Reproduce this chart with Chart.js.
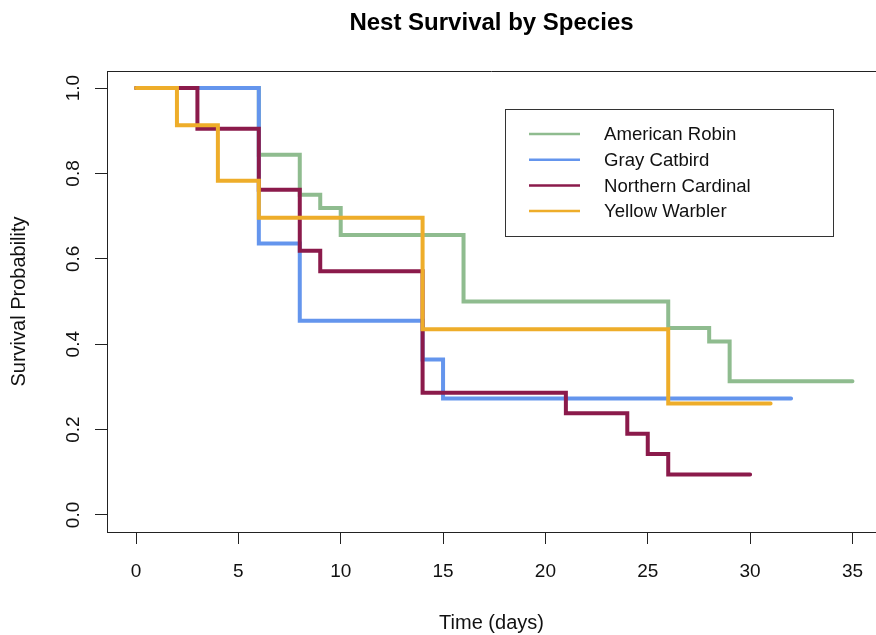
<!DOCTYPE html>
<html>
<head>
<meta charset="utf-8">
<script src="https://cdn.jsdelivr.net/npm/chart.js@4.4.1/dist/chart.umd.min.js"></script>
<style>
  html, body { margin: 0; padding: 0; background: #fff; }
  #wrap { width: 876px; height: 635px; position: relative; }
</style>
</head>
<body>
<div id="wrap"><canvas id="survChart"></canvas></div>
<script>
// espécies e curvas de Kaplan-Meier
const species = ['American Robin', 'Gray Catbird', 'Northern Cardinal', 'Yellow Warbler'];
const colors = ['#8FBC8F', '#6495ED', '#8B1A4B', '#EEAD2A'];

const robinTime = [0, 6, 8, 9, 10, 16, 26, 28, 29, 35];
const robinSurv = [1.0, 0.844, 0.75, 0.719, 0.656, 0.5, 0.438, 0.406, 0.313, 0.313];

const catbirdTime = [0, 6, 8, 14, 15, 32];
const catbirdSurv = [1.0, 0.636, 0.455, 0.364, 0.273, 0.273];

const cardinalTime = [0, 3, 6, 8, 9, 14, 21, 24, 25, 26, 30];
const cardinalSurv = [1.0, 0.905, 0.762, 0.619, 0.571, 0.286, 0.238, 0.190, 0.143, 0.095, 0.095];

const warblerTime = [0, 2, 4, 6, 14, 26, 31];
const warblerSurv = [1.0, 0.913, 0.783, 0.696, 0.435, 0.261, 0.261];

const xTicks = [0, 5, 10, 15, 20, 25, 30, 35];
const yTicks = [0, 0.2, 0.4, 0.6, 0.8, 1.0];

const times = [robinTime, catbirdTime, cardinalTime, warblerTime];
const survs = [robinSurv, catbirdSurv, cardinalSurv, warblerSurv];

const FONT = '"Liberation Sans", Arial, Helvetica, sans-serif';

// moldura de cima + legenda dentro do gráfico
const framePlugin = {
  id: 'frameLegend',
  afterDraw(chart) {
    const { ctx, chartArea: a } = chart;
    ctx.save();
    ctx.strokeStyle = '#222';
    ctx.lineWidth = 1;
    ctx.beginPath();
    ctx.moveTo(a.left, a.top + 0.5);
    ctx.lineTo(chart.width, a.top + 0.5);
    ctx.stroke();

    // legenda
    const bx = a.left + 398, by = a.top + 38, bw = 328, bh = 127;
    ctx.fillStyle = '#fff';
    ctx.fillRect(bx, by, bw, bh);
    ctx.strokeStyle = '#333';
    ctx.strokeRect(bx + 0.5, by + 0.5, bw, bh);
    ctx.font = '18.6px ' + FONT;
    ctx.textBaseline = 'middle';
    ctx.textAlign = 'left';
    species.forEach((name, i) => {
      const y = by + 25 + i * 25.7;
      ctx.strokeStyle = colors[i];
      ctx.lineWidth = 2.5;
      ctx.beginPath();
      ctx.moveTo(bx + 24, y);
      ctx.lineTo(bx + 75, y);
      ctx.stroke();
      ctx.fillStyle = '#111';
      ctx.fillText(name, bx + 99, y + 1);
    });
    ctx.restore();
  }
};

const datasets = species.map((name, i) => ({
  label: name,
  data: times[i].map((t, j) => ({ x: t, y: survs[i][j] })),
  borderColor: colors[i],
  backgroundColor: colors[i],
  borderWidth: 4,
  borderCapStyle: 'round',
  stepped: true,
  showLine: true,
  pointRadius: 0,
  fill: false,
  order: species.length - i
}));

const ctx = document.getElementById('survChart').getContext('2d');
window.survChart = new Chart(ctx, {
  type: 'scatter',
  data: { datasets },
  plugins: [framePlugin],
  options: {
    responsive: true,
    maintainAspectRatio: false,
    animation: false,
    layout: { padding: 0 },
    plugins: {
      legend: { display: false },
      tooltip: { enabled: false },
      title: {
        display: true,
        text: 'Nest Survival by Species',
        fullSize: false,
        color: '#000',
        font: { family: FONT, size: 24, weight: 'bold', lineHeight: 1.2 },
        padding: { top: 9, bottom: 33.2 }
      }
    },
    scales: {
      x: {
        type: 'linear',
        min: -1.417,
        max: 36.15,
        afterFit: s => { s.height = 103; s.paddingRight = 0; s.paddingLeft = 0; },
        afterBuildTicks: s => { s.ticks = xTicks.map(v => ({ value: v })); },
        grid: { drawOnChartArea: false, drawTicks: true, tickLength: 12, color: '#222' },
        border: { display: true, color: '#222', width: 1 },
        ticks: {
          color: '#111',
          padding: 16,
          font: { family: FONT, size: 19 },
          maxRotation: 0
        },
        title: {
          display: true,
          text: 'Time (days)',
          color: '#111',
          font: { family: FONT, size: 20, lineHeight: 1.2 },
          padding: { top: 0, bottom: 0 }
        }
      },
      y: {
        type: 'linear',
        min: -0.04,
        max: 1.04,
        afterFit: s => { s.width = 107; },
        afterBuildTicks: s => { s.ticks = yTicks.map(v => ({ value: v })); },
        grid: { drawOnChartArea: false, drawTicks: true, tickLength: 12, color: '#222' },
        border: { display: true, color: '#222', width: 1 },
        ticks: {
          color: '#111',
          padding: 8,
          crossAlign: 'center',
          minRotation: 90,
          maxRotation: 90,
          font: { family: FONT, size: 19 },
          callback: v => Number(v).toFixed(1)
        },
        title: {
          display: true,
          text: 'Survival Probability',
          color: '#111',
          font: { family: FONT, size: 20, lineHeight: 1.2 },
          padding: { top: 7, bottom: 0 }
        }
      }
    }
  }
});
</script>
</body>
</html>
